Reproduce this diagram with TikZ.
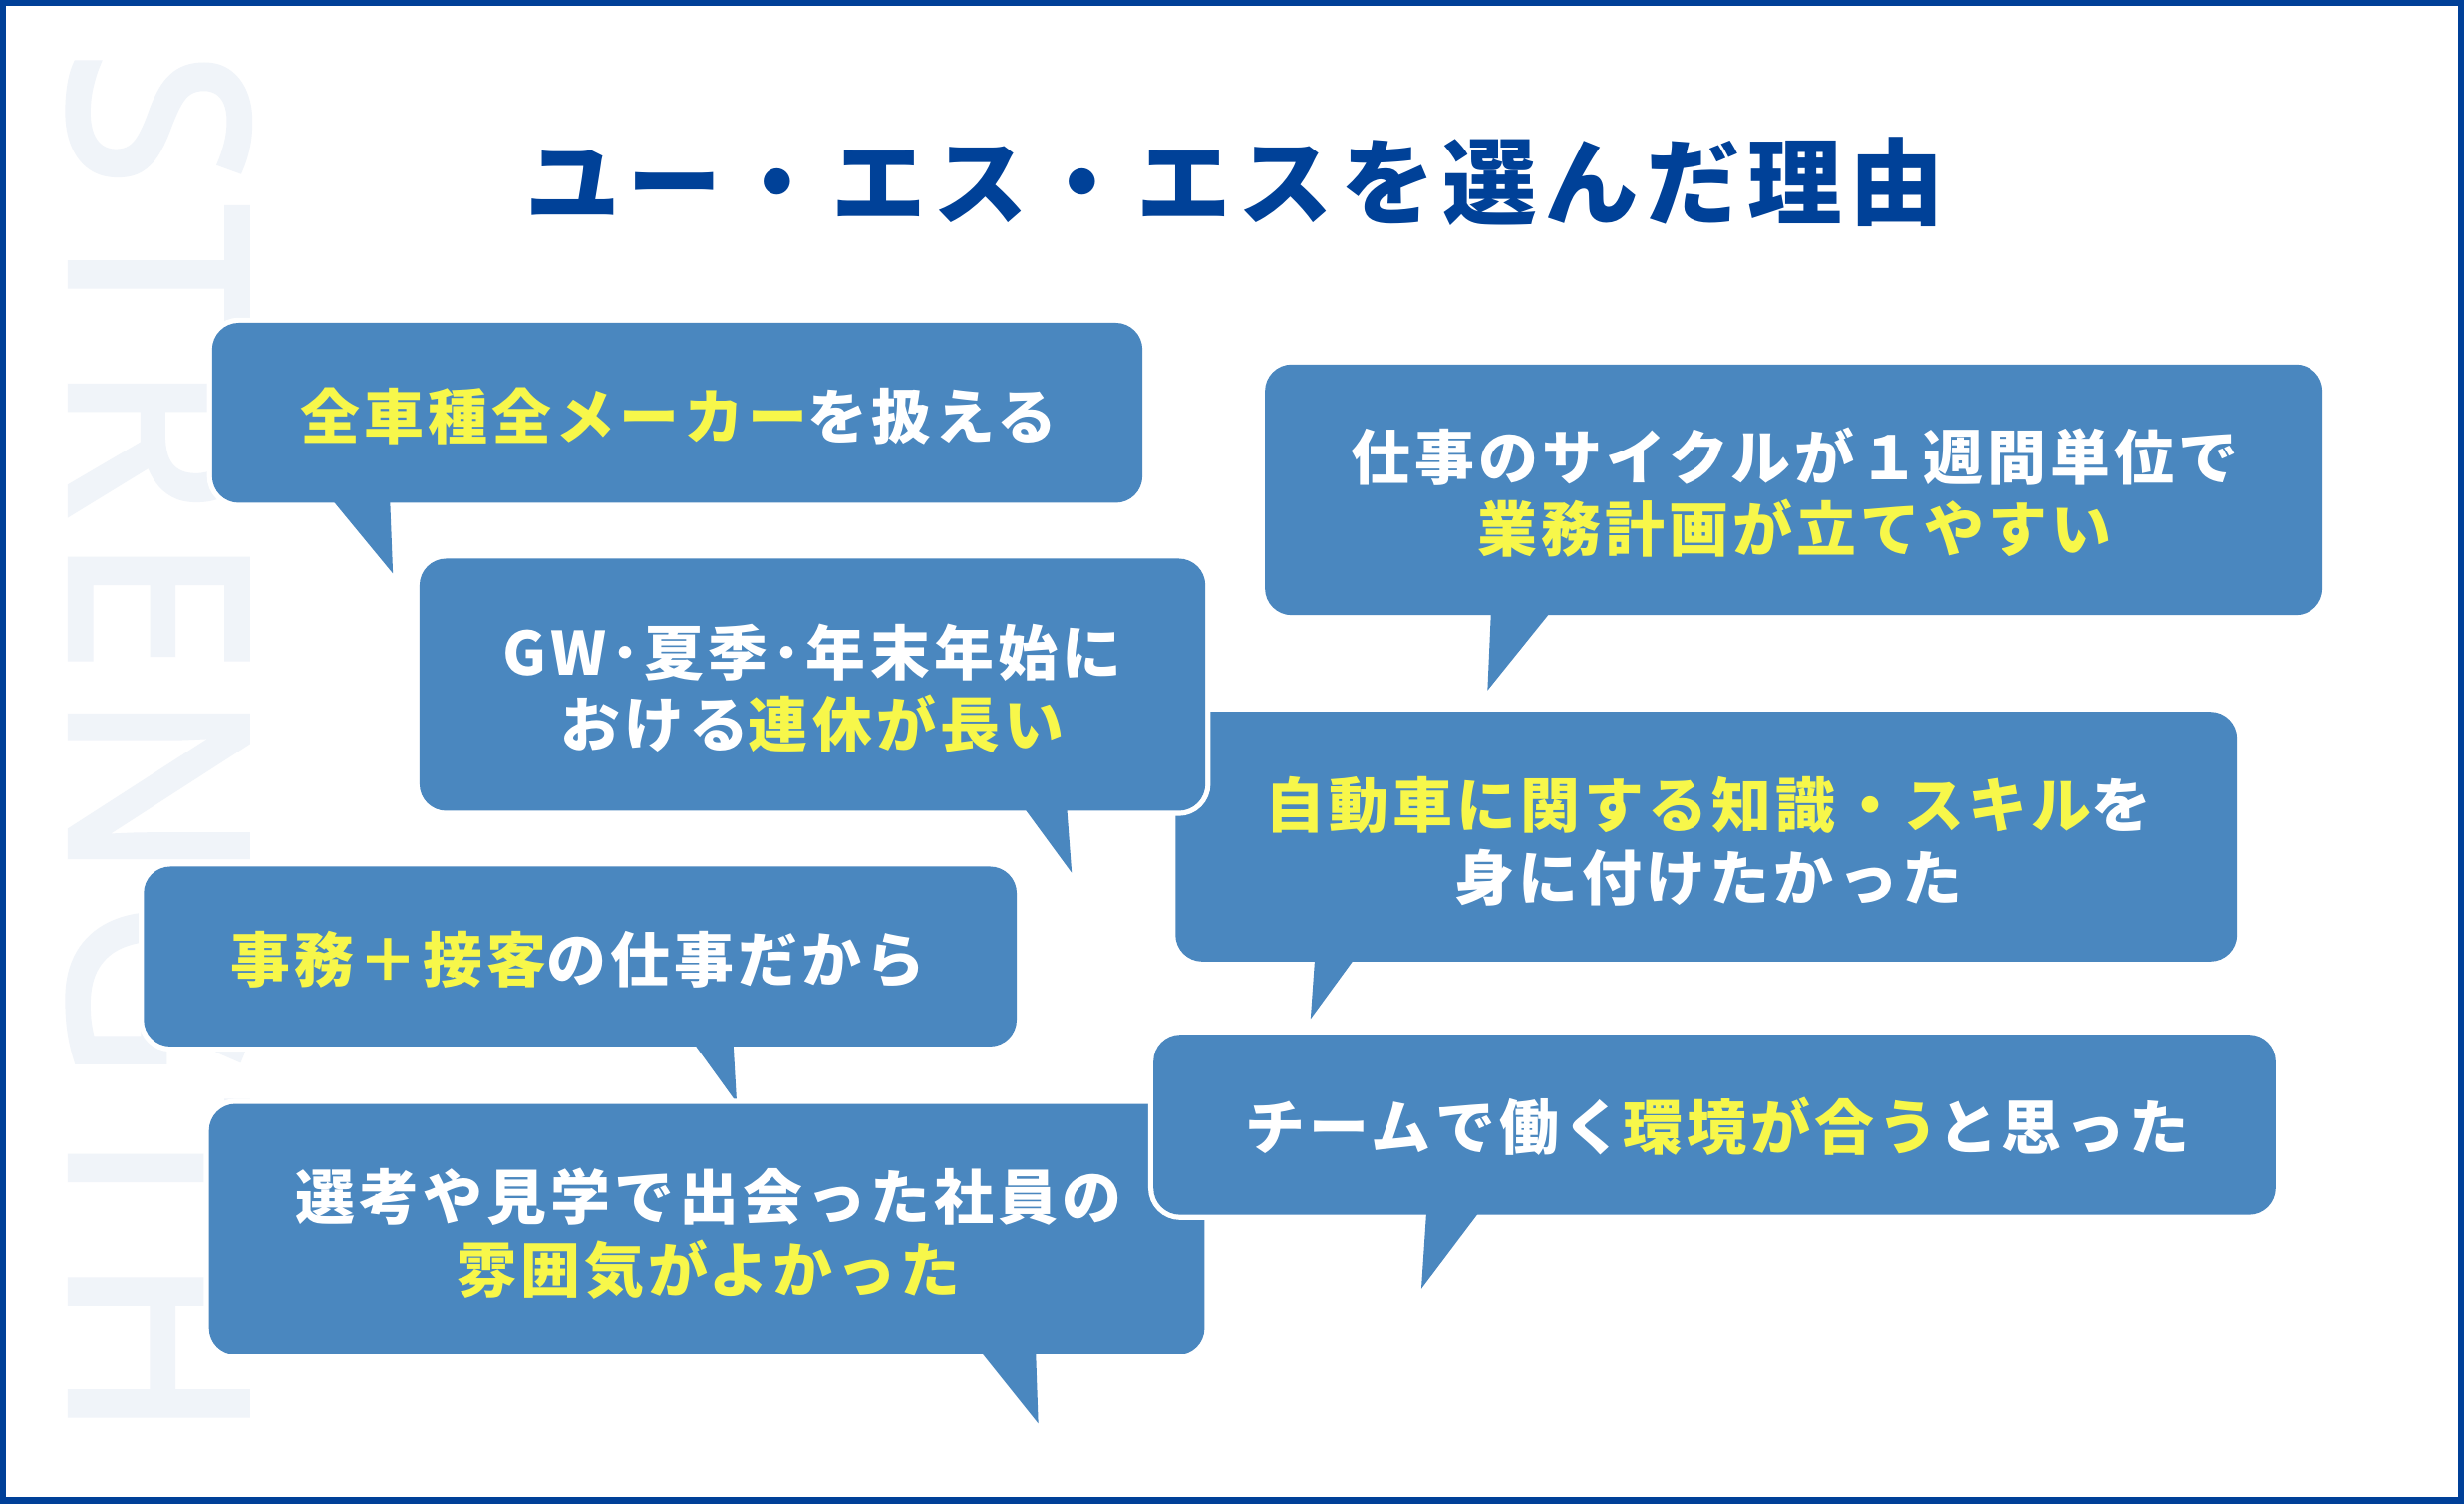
\documentclass[tikz,border=0pt]{standalone}
\usepackage{fontspec}
\newfontfamily\jp{Noto Sans CJK JP}[LetterSpace=7]
\newfontfamily\jptitle{Noto Sans CJK JP}[LetterSpace=8]
\newfontfamily\wmfont{Noto Sans}[LetterSpace=8,FakeBold=2.5]
\definecolor{bubc}{HTML}{4A87BF}
\definecolor{hl}{HTML}{F7F74A}
\definecolor{titlec}{HTML}{004198}
\definecolor{framec}{HTML}{004098}
\definecolor{wmc}{HTML}{F0F4F9}
\tikzset{
  btext/.style={font=\jp\bfseries\fontsize{38}{46}\selectfont, text=white, align=center, inner sep=0pt},
  wm/.style={font=\wmfont\fontsize{157}{157}\selectfont, text=wmc, inner sep=0pt, rotate=-90, anchor=base west},
  titlestyle/.style={font=\jptitle\bfseries\fontsize{60}{72}\selectfont, text=titlec, inner sep=0pt},
  bubstroke/.style={draw=white, line width=6.6pt},
  bubfill/.style={fill=bubc}
}
\newcommand\speech[8]{%
  \path[bubstroke,rounded corners=17pt] (#1,#2) rectangle (#3,#4);
  \path[bubstroke,line join=round] (#5,#4-6) -- (#7,#8) -- (#6,#4-6) -- cycle;
  \path[bubfill,rounded corners=17pt] (#1,#2) rectangle (#3,#4);
  \path[bubfill] (#5,#4-6) -- (#7,#8) -- (#6,#4-6) -- cycle;
}
\begin{document}
\begin{tikzpicture}[x=1pt,y=-1pt]
\useasboundingbox (0,0) rectangle (1568,957);
\fill[white] (0,0) rectangle (1568,957);
\node[wm] (wmark) at (45,32) {STRENGTH};
\draw[line width=4pt, draw=framec] (2,2) rectangle (1566,955);
\node[titlestyle] (title) at (786,116) {ユー・エス・エスを選んだ理由};
% bubble 1
\speech{135}{205.5}{727}{320}{208}{248}{250}{365}
\node[btext] (t1) at (432,265) {\textcolor{hl}{全車種全メーカー}を扱える};
% bubble 3
\speech{805}{232}{1478}{391.5}{949}{990}{946.6}{439.4}
\node[btext] (t3) at (1142,313.5) {仕事のサイクルが１週間単位で\\\textcolor{hl}{業務計画が立てやすい}};
% bubble 4
\speech{748}{453}{1423.5}{612}{837}{865}{834}{648.5}
\node[btext] (t4) at (1087,535.5) {\textcolor{hl}{自動車に関する知識・スキル}を\\身に付けたかった};
% bubble 2
\speech{267}{355.5}{767}{516}{648.6}{678.6}{682}{555.5}
\node[btext] (t2) at (517,438) {GW･夏季･年末年始に\\おける\textcolor{hl}{連休が長い}};
% bubble 6
\speech{91.5}{551.5}{647}{666}{438.6}{466.4}{468.8}{701.8}
\node[btext] (t6) at (368,611) {\textcolor{hl}{事務＋接客}の仕事だから};
% bubble 7
\speech{133}{702.5}{766.5}{862}{620.7}{659}{660.7}{906}
\node[btext] (t7) at (451,785) {選考や見学で出会った社員の\\\textcolor{hl}{雰囲気がよかった}};
% bubble 5
\speech{734}{658.5}{1448}{773}{908}{944.5}{904.5}{820}
\node[btext] (t5) at (1093,717) {チームで働く\textcolor{hl}{環境が合う}と思った};
\end{tikzpicture}
\end{document}
